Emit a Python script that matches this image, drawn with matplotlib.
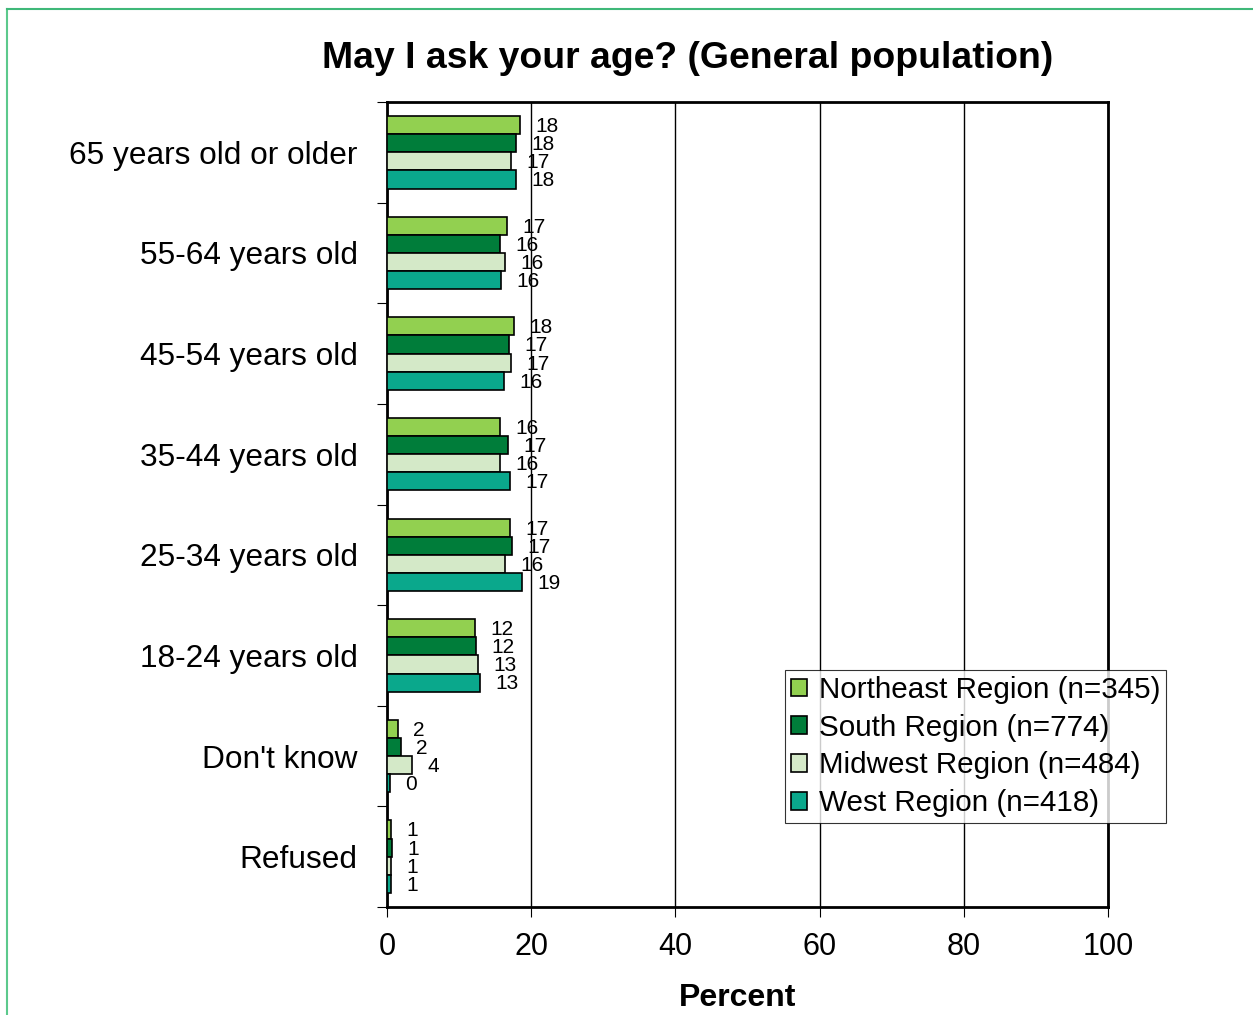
import numpy as np
import matplotlib.pyplot as plt
from matplotlib.lines import Line2D

plt.rcParams['font.family'] = ['Liberation Sans', 'DejaVu Sans']

categories = ['65 years old or older', '55-64 years old', '45-54 years old',
              '35-44 years old', '25-34 years old', '18-24 years old',
              "Don't know", 'Refused']

series_names = ['Northeast Region (n=345)', 'South Region (n=774)',
                'Midwest Region (n=484)', 'West Region (n=418)']

northeast = [18.4, 16.6, 17.6, 15.7, 17.1, 12.2, 1.5, 0.6]
south = [17.9, 15.7, 16.9, 16.8, 17.3, 12.3, 1.9, 0.7]
midwest = [17.2, 16.4, 17.2, 15.7, 16.4, 12.6, 3.5, 0.6]
west = [17.9, 15.8, 16.2, 17.1, 18.7, 12.9, 0.4, 0.6]

colors = ['#92d050', '#007d3a', '#d4e9c8', '#0aa88c']

W, H = 1253, 1015
fig = plt.figure(figsize=(W / 100, H / 100), dpi=100)
ax = fig.add_axes([387 / W, 1 - 907 / H, (1108 - 387) / W, (907 - 102) / H])

y = np.arange(len(categories))
bar_h = 0.18
offsets = [-0.27, -0.09, 0.09, 0.27]
all_series = [northeast, south, midwest, west]

for vals, off, col, name in zip(all_series, offsets, colors, series_names):
    ax.barh(y + off, vals, height=bar_h, color=col, edgecolor='black',
            linewidth=1.2, label=name, zorder=3)
    for yi, v in zip(y + off, vals):
        ax.annotate(f'{round(v)}', (v, yi), xytext=(11, -1), textcoords='offset points',
                    va='center', ha='left', fontsize=15)

ax.set_xlim(0, 100)
ax.set_ylim(len(categories) - 0.5, -0.5)
ax.set_xticks([0, 20, 40, 60, 80, 100])
ax.tick_params(axis='x', labelsize=22, length=7, width=0.8, direction='out', pad=11)
ax.set_yticks(y)
ax.set_yticklabels(categories, fontsize=22.8)
ax.tick_params(axis='y', which='major', length=0, pad=21)
ax.set_yticks(np.arange(len(categories) + 1) - 0.5, minor=True)
ax.tick_params(axis='y', which='minor', length=7, width=0.8, direction='out')
ax.grid(axis='x', color='black', linewidth=1, zorder=1)
for s in ax.spines.values():
    s.set_linewidth(2)

leg = ax.legend(loc='upper left', bbox_to_anchor=(785 / W, 1 - 670 / H),
                bbox_transform=fig.transFigure, fontsize=21.3, frameon=True,
                fancybox=False, edgecolor='black', handlelength=0.55,
                handleheight=0.55, handletextpad=0.4, labelspacing=0.33,
                borderpad=0.2, borderaxespad=0)
leg.get_frame().set_linewidth(0.8)

fig.text(688 / W, 1 - 58 / H, 'May I ask your age? (General population)',
         ha='center', va='center', fontsize=26.9, fontweight='bold')
fig.text(738 / W, 1 - 998 / H, 'Percent', ha='center', va='center',
         fontsize=23, fontweight='bold')

# outer green frame
fig.add_artist(Line2D([7 / W, 7 / W], [0, 1 - 9 / H], transform=fig.transFigure,
                      color='#5cc98c', linewidth=1.5))
fig.add_artist(Line2D([7 / W, 1], [1 - 9 / H, 1 - 9 / H], transform=fig.transFigure,
                      color='#3fb879', linewidth=1.5))

fig.savefig('out.png', dpi=100)
